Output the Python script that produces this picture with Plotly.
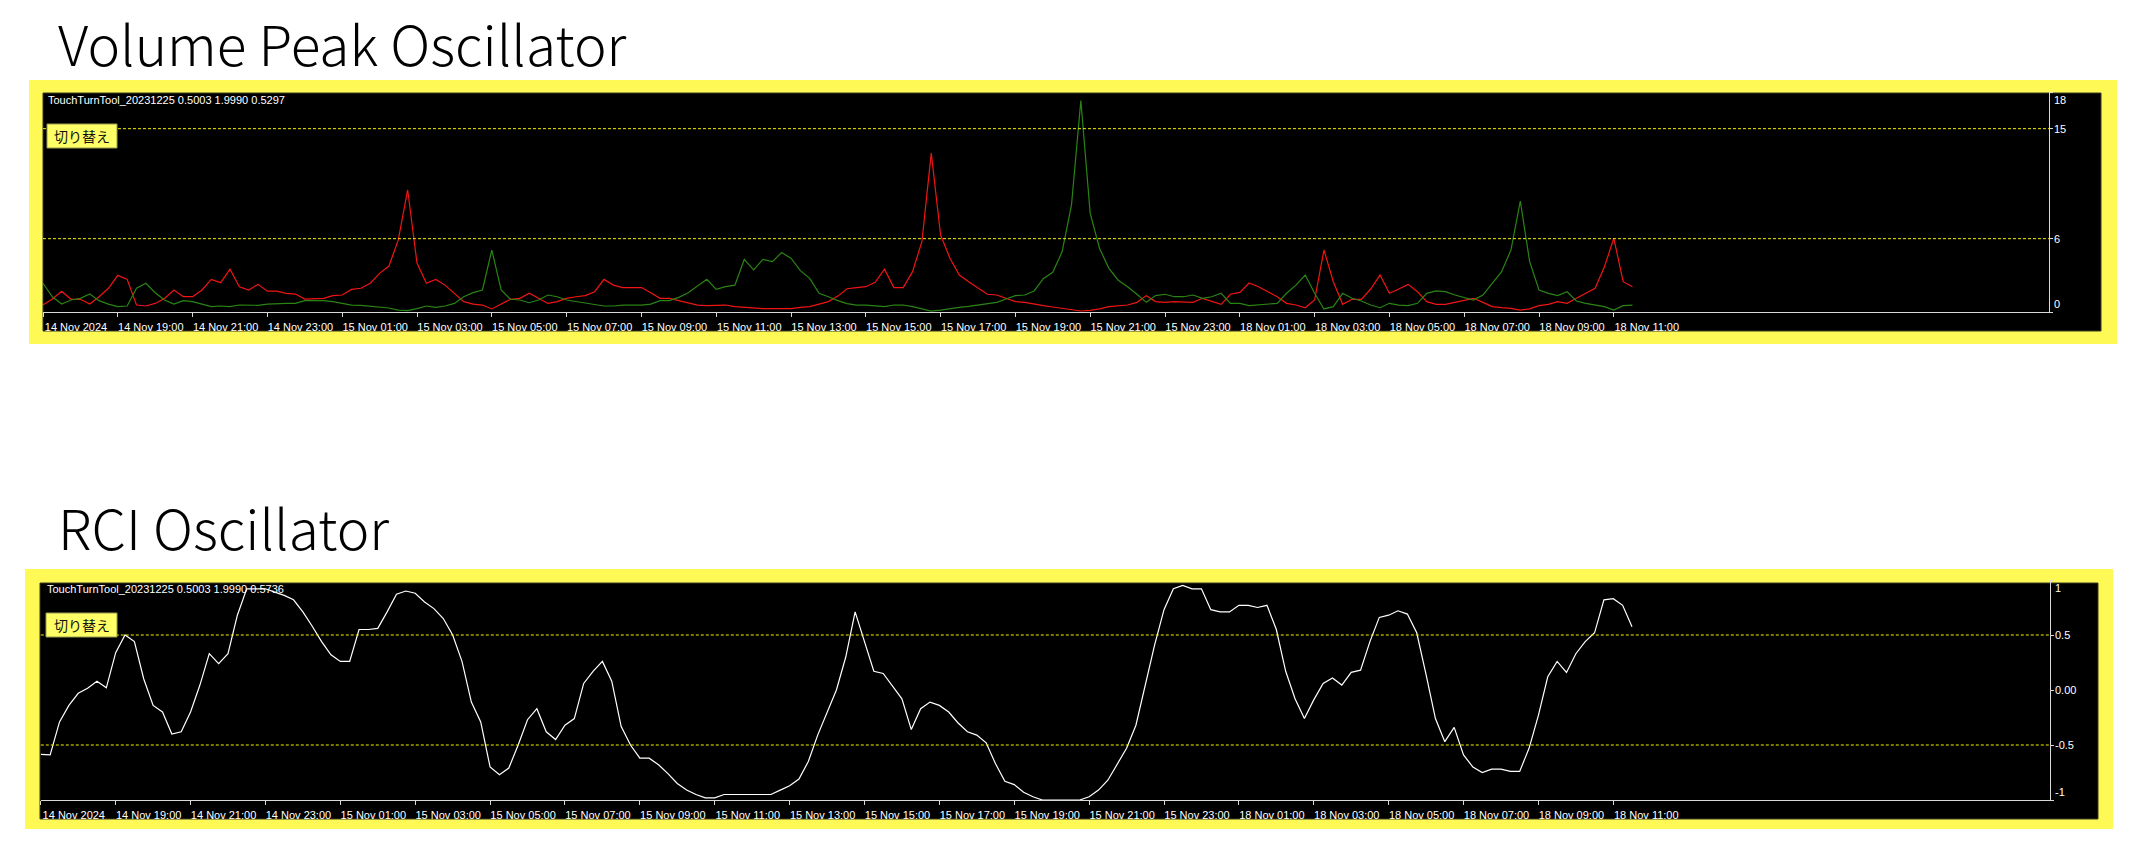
import pandas as pd
import plotly.graph_objects as go

# ---------------- data ----------------
t1 = pd.date_range("2024-11-14 17:00", "2024-11-15 23:45", freq="15min")
t2 = pd.date_range("2024-11-18 00:00", "2024-11-18 11:30", freq="15min")
bar_times = [t.strftime("%d %b %H:%M") for t in list(t1) + list(t2)]

vol_red = [
    0.57, 1.06, 1.7, 1.04, 1.04, 0.65, 1.25, 1.94, 3.0, 2.67,
    0.57, 0.49, 0.7, 1.1, 1.8, 1.25, 1.25, 1.8, 2.67, 2.4,
    3.5, 2.07, 1.8, 2.26, 1.7, 1.7, 1.53, 1.47, 1.06, 1.12,
    1.12, 1.34, 1.39, 1.85, 1.94, 2.35, 3.16, 3.76, 5.9, 10.0,
    4.0, 2.35, 2.67, 2.2, 1.53, 0.85, 0.65, 0.57, 0.25, 0.65,
    1.04, 1.12, 1.53, 1.12, 0.7, 0.85, 1.12, 1.25, 1.34, 1.66,
    2.67, 2.2, 2.0, 2.0, 2.0, 1.58, 1.12, 1.12, 0.93, 0.7,
    0.57, 0.52, 0.57, 0.57, 0.44, 0.38, 0.33, 0.27, 0.27, 0.27,
    0.27, 0.38, 0.44, 0.65, 0.85, 1.3, 1.9, 2.0, 2.07, 2.43,
    3.5, 2.0, 2.0, 3.3, 5.76, 13.0, 6.3, 4.4, 3.03, 2.48,
    1.94, 1.45, 1.39, 1.12, 0.85, 0.79, 0.63, 0.52, 0.41, 0.3,
    0.22, 0.08, 0.14, 0.25, 0.44, 0.52, 0.57, 0.79, 1.34, 0.85,
    0.79, 0.85, 0.85, 0.79, 1.12, 0.9, 0.63, 1.45, 1.6, 2.37,
    2.07, 1.66, 1.25, 0.71, 0.57, 0.35, 0.98, 5.07, 2.48, 0.63,
    1.04, 1.04, 1.88, 3.03, 1.53, 1.88, 2.26, 1.66, 0.85, 0.63,
    0.63, 0.79, 0.98, 1.12, 0.79, 0.44, 0.35, 0.3, 0.16, 0.25,
    0.52, 0.63, 0.85, 0.71, 1.12, 1.53, 1.94, 3.7, 6.03, 2.48,
    2.07,
]

vol_green = [
    2.35, 1.25, 0.65, 0.98, 1.12, 1.47, 0.93, 0.65, 0.44, 0.49,
    1.94, 2.35, 1.58, 0.98, 0.65, 0.93, 0.85, 0.65, 0.44, 0.49,
    0.44, 0.57, 0.57, 0.55, 0.65, 0.7, 0.7, 0.7, 0.93, 0.93,
    0.93, 0.85, 0.7, 0.57, 0.55, 0.49, 0.38, 0.33, 0.16, 0.11,
    0.27, 0.49, 0.38, 0.49, 0.7, 1.25, 1.58, 1.8, 5.07, 1.8,
    1.04, 0.98, 0.76, 0.98, 1.39, 1.25, 0.98, 0.85, 0.76, 0.65,
    0.49, 0.49, 0.57, 0.57, 0.57, 0.65, 0.93, 0.93, 1.2, 1.58,
    2.13, 2.67, 1.85, 2.07, 2.2, 4.3, 3.44, 4.3, 4.12, 4.86,
    4.4, 3.38, 2.75, 1.53, 1.25, 0.93, 0.68, 0.57, 0.57, 0.52,
    0.44, 0.57, 0.57, 0.44, 0.25, 0.08, 0.16, 0.3, 0.38, 0.46,
    0.57, 0.71, 0.79, 1.06, 1.34, 1.39, 1.72, 2.75, 3.25, 4.94,
    8.76, 17.3, 8.07, 5.2, 3.57, 2.6, 2.07, 1.45, 0.79, 1.34,
    1.45, 1.25, 1.25, 1.39, 1.12, 1.25, 1.53, 0.71, 0.71, 0.52,
    0.57, 0.63, 0.71, 1.53, 2.2, 3.03, 1.53, 0.25, 0.44, 1.53,
    1.12, 0.9, 0.57, 0.35, 0.71, 0.57, 0.52, 0.71, 1.53, 1.72,
    1.66, 1.39, 1.2, 0.98, 1.39, 2.35, 3.3, 5.07, 9.08, 4.12,
    1.8, 1.53, 1.34, 1.66, 0.9, 0.71, 0.57, 0.44, 0.16, 0.52,
    0.57,
]

rci = [
    -0.585, -0.59, -0.29, -0.14, -0.03, 0.015, 0.08, 0.02, 0.34, 0.5,
    0.44, 0.1, -0.14, -0.2, -0.4, -0.38, -0.2, 0.045, 0.33, 0.24,
    0.33, 0.68, 0.92, 0.92, 0.92, 0.89, 0.86, 0.82, 0.71, 0.58,
    0.44, 0.32, 0.26, 0.26, 0.55, 0.55, 0.56, 0.71, 0.87, 0.9,
    0.88, 0.8, 0.74, 0.65, 0.5, 0.26, -0.11, -0.29, -0.7, -0.77,
    -0.71, -0.5, -0.27, -0.17, -0.38, -0.45, -0.32, -0.26, 0.06, 0.17,
    0.26, 0.08, -0.33, -0.5, -0.62, -0.62, -0.68, -0.76, -0.85, -0.91,
    -0.95, -0.98, -0.98, -0.95, -0.95, -0.95, -0.95, -0.95, -0.95, -0.91,
    -0.87, -0.81, -0.65, -0.41, -0.2, 0.0, 0.3, 0.71, 0.44, 0.17,
    0.15, 0.03, -0.08, -0.36, -0.17, -0.11, -0.14, -0.2, -0.3, -0.38,
    -0.41, -0.48, -0.67, -0.83, -0.86, -0.93, -0.97, -1.0, -1.0, -1.0,
    -1.0, -1.0, -0.97, -0.91, -0.82, -0.68, -0.53, -0.32, 0.045, 0.41,
    0.73, 0.92, 0.95, 0.92, 0.92, 0.73, 0.71, 0.71, 0.77, 0.77,
    0.75, 0.77, 0.55, 0.17, -0.08, -0.26, -0.09, 0.06, 0.11, 0.045,
    0.16, 0.18, 0.44, 0.66, 0.68, 0.72, 0.69, 0.52, 0.14, -0.26,
    -0.47, -0.34, -0.59, -0.7, -0.75, -0.72, -0.72, -0.74, -0.74, -0.53,
    -0.23, 0.12, 0.26, 0.16, 0.33, 0.44, 0.52, 0.82, 0.83, 0.77,
    0.574,
]

vol_levels = [15, 6]
rci_levels = [0.5, -0.5]
vol_tick_labels = [("18", 18, "top"), ("15", 15, "middle"), ("6", 6, "middle"), ("0", 0, "bottom")]
rci_tick_labels = [("1", 1, "top"), ("0.5", 0.5, "middle"), ("0.00", 0, "middle"),
                   ("-0.5", -0.5, "middle"), ("-1", -1, "bottom")]

tick_idx = [0] + list(range(8, len(bar_times), 8))
tick_vals = [bar_times[i] for i in tick_idx]
tick_text = ["14 Nov 2024" if i == 0 else bar_times[i] for i in tick_idx]

# ---------------- layout helpers ----------------
W, H = 2146, 856
def px(x):
    return x / W
def py(y):
    return 1 - y / H

YELLOW = "#FFF955"
AXIS = "#D9D9D9"
LABEL_FONT = dict(family="Liberation Sans, Arial, sans-serif", size=11, color="white")
TITLE_FONT = dict(family="Noto Sans CJK JP, Noto Sans, sans-serif", size=55,
                  color="black", weight=300)

fig = go.Figure()
fig.add_trace(go.Scatter(x=bar_times, y=vol_red, mode="lines",
                         line=dict(color="#F01414", width=1.2), xaxis="x", yaxis="y",
                         showlegend=False, hoverinfo="skip"))
fig.add_trace(go.Scatter(x=bar_times, y=vol_green, mode="lines",
                         line=dict(color="#2A8414", width=1.2), xaxis="x", yaxis="y",
                         showlegend=False, hoverinfo="skip"))
fig.add_trace(go.Scatter(x=bar_times, y=rci, mode="lines",
                         line=dict(color="white", width=1.2), xaxis="x2", yaxis="y2",
                         showlegend=False, hoverinfo="skip"))

n_span_top = (2049 - 43) / 9.35
n_span_bot = (2050 - 40.8) / 9.36

xcommon = dict(type="category", showgrid=False, zeroline=False, showline=True,
               linecolor=AXIS, linewidth=1, ticks="outside", ticklen=4, tickcolor=AXIS,
               tickvals=tick_vals, ticktext=tick_text, tickfont=LABEL_FONT,
               ticklabelshift=33, ticklabelstandoff=1, fixedrange=True)
ycommon = dict(showgrid=False, zeroline=False, showline=True, linecolor=AXIS, linewidth=1,
               side="right", ticks="outside", ticklen=3, tickcolor=AXIS,
               showticklabels=False, fixedrange=True)

fig.update_layout(
    width=W, height=H, margin=dict(l=0, r=0, t=0, b=0),
    paper_bgcolor="white", plot_bgcolor="rgba(0,0,0,0)",
    xaxis=dict(xcommon, domain=[px(43), px(2049)], range=[0, n_span_top], anchor="y"),
    yaxis=dict(ycommon, domain=[py(312), py(92)], range=[0, 18], anchor="x",
               tickvals=[v for _, v, _ in vol_tick_labels]),
    xaxis2=dict(xcommon, domain=[px(40.8), px(2050)], range=[0, n_span_bot], anchor="y2"),
    yaxis2=dict(ycommon, domain=[py(800), py(580)], range=[-1, 1], anchor="x2",
                tickvals=[v for _, v, _ in rci_tick_labels]),
)

shapes = []
# panels: yellow frame + black background
for (yx0, yy0, yx1, yy1), (bx0, by0, bx1, by1) in [
    ((29, 80, 2117, 344), (43, 93, 2101, 331)),
    ((25, 569, 2113, 829), (40, 583, 2098, 819)),
]:
    shapes.append(dict(type="rect", xref="paper", yref="paper", layer="below",
                       x0=px(yx0), x1=px(yx1), y0=py(yy1), y1=py(yy0),
                       fillcolor=YELLOW, line=dict(width=0)))
    shapes.append(dict(type="rect", xref="paper", yref="paper", layer="below",
                       x0=px(bx0), x1=px(bx1), y0=py(by1), y1=py(by0),
                       fillcolor="black", line=dict(color="#3A3A20", width=1)))
# level lines
for lv in vol_levels:
    shapes.append(dict(type="line", xref="x domain", yref="y", x0=0, x1=1, y0=lv, y1=lv,
                       line=dict(color="#F2F200", width=1, dash="3px,2px")))
for lv in rci_levels:
    shapes.append(dict(type="line", xref="x2 domain", yref="y2", x0=0, x1=1, y0=lv, y1=lv,
                       line=dict(color="#F2F200", width=1, dash="3px,2px")))
# switch buttons
for (x0, y0, x1, y1) in [(47, 124, 117, 148), (46, 613, 117, 637)]:
    shapes.append(dict(type="rect", xref="paper", yref="paper", layer="above",
                       x0=px(x0), x1=px(x1), y0=py(y1), y1=py(y0),
                       fillcolor="#FFFF66", line=dict(color="#9A9A50", width=1)))
fig.update_layout(shapes=shapes)

ann = []
# titles
ann.append(dict(text="Volume Peak Oscillator", xref="paper", yref="paper",
                x=px(56), y=py(0), xanchor="left", yanchor="top", showarrow=False,
                font=TITLE_FONT))
ann.append(dict(text="RCI Oscillator", xref="paper", yref="paper",
                x=px(56), y=py(526), xanchor="left", yanchor="middle", showarrow=False,
                font=TITLE_FONT))
# indicator captions
for txt, x, y in [("TouchTurnTool_20231225 0.5003 1.9990 0.5297", 46, 100),
                  ("TouchTurnTool_20231225 0.5003 1.9990 0.5736", 45, 589)]:
    ann.append(dict(text=txt, xref="paper", yref="paper", x=px(x), y=py(y),
                    xanchor="left", yanchor="middle", showarrow=False, font=LABEL_FONT))
# buttons
for x, y in [(82, 136), (81.5, 625)]:
    ann.append(dict(text="切り替え", xref="paper", yref="paper", x=px(x), y=py(y),
                    xanchor="center", yanchor="middle", showarrow=False,
                    font=dict(family="Noto Sans CJK JP, sans-serif", size=14, color="#111111")))
# right axis labels
for txt, v, anc in vol_tick_labels:
    ann.append(dict(text=txt, xref="paper", yref="y", x=px(2052), y=v, xanchor="left",
                    yanchor=anc, showarrow=False, font=LABEL_FONT))
for txt, v, anc in rci_tick_labels:
    ann.append(dict(text=txt, xref="paper", yref="y2", x=px(2053), y=v, xanchor="left",
                    yanchor=anc, showarrow=False, font=LABEL_FONT))
fig.update_layout(annotations=ann)

fig.write_html("out.html", config={"displayModeBar": False},
               post_script="document.body.style.margin='0px';")
